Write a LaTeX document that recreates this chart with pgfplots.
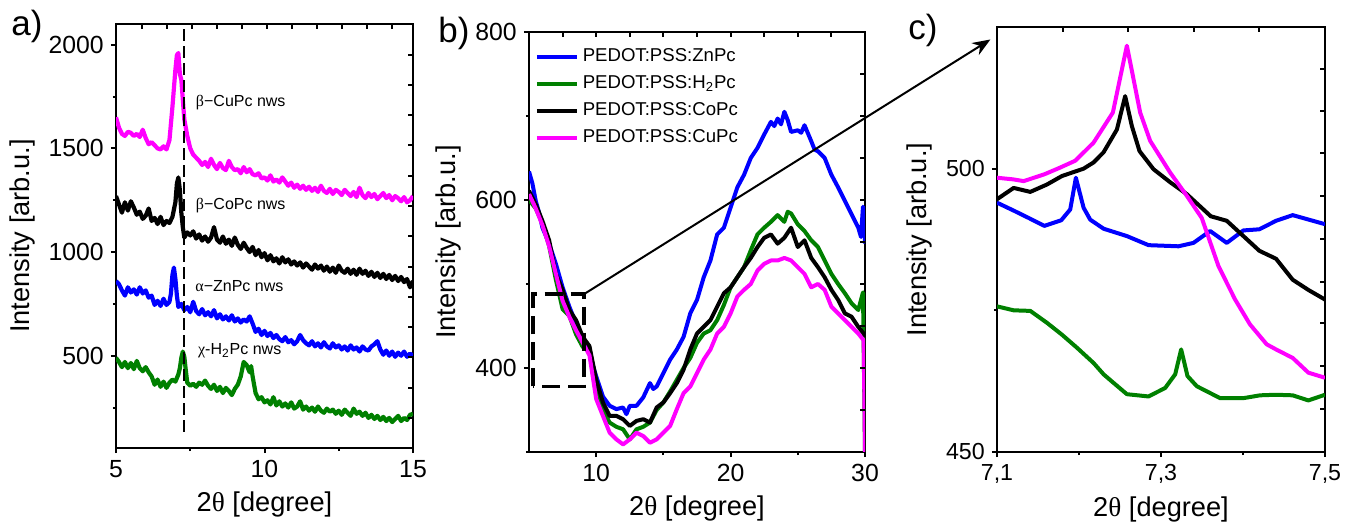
\documentclass[border=0pt]{standalone}
\usepackage{fontspec}
\setmainfont{Liberation Sans}
\newfontfamily\grk{Liberation Serif}
\usepackage{pgfplots}
\pgfplotsset{compat=1.18}
\usetikzlibrary{arrows.meta}
\definecolor{cmag}{HTML}{FF00FF}
\definecolor{cblue}{HTML}{0000FF}
\definecolor{cgreen}{HTML}{008000}

\pgfplotsset{
  panel/.style={scale only axis, axis line style={line width=1.3pt},
    tick align=outside, xtick pos=left, ytick pos=left,
    major tick length=2.6pt, minor tick length=1.6pt,
    every tick/.style={black,line width=1pt},
    tick label style={font=\fontsize{12.4}{14}\selectfont},
    label style={font=\fontsize{13.6}{16}\selectfont},
    /pgf/number format/assume math mode=true,
    /pgf/number format/1000 sep={}},
  mirror/.style={scale only axis, axis line style={draw=none},
    tick align=inside, xtick pos=right, ytick pos=right,
    xticklabels={}, yticklabels={}, major tick length=2.6pt,
    every tick/.style={black,line width=1pt}},
}

\begin{document}
\begin{tikzpicture}
\useasboundingbox (0,0) rectangle (678pt,261pt);

% ---------- a) ----------
\begin{axis}[panel, at={(58pt,37pt)}, anchor=south west,
  width=148.5pt, height=212pt,
  xmin=5, xmax=15, ymin=55, ymax=2100,
  xtick={5,10,15}, minor xtick={7.5,12.5},
  ytick={500,1000,1500,2000}, minor ytick={250,750,1250,1750},
  xlabel={2{\grk θ} [degree]}, ylabel={Intensity [arb.u.]}]
\addplot[cmag, line width=2.1pt, line join=round] coordinates {
(5.0,1650)(5.1,1600)(5.2,1570)(5.3,1560)(5.4,1580)(5.5,1575)(5.6,1560)(5.7,1570)(5.8,1555)(5.9,1590)
(6.0,1550)(6.1,1520)(6.2,1530)(6.3,1515)(6.4,1500)(6.5,1495)(6.6,1510)(6.7,1495)(6.8,1540)(6.9,1700)
(7.0,1880)(7.05,1950)(7.1,1960)(7.15,1860)(7.2,1830)(7.3,1640)(7.4,1560)(7.5,1500)(7.6,1470)(7.7,1455)
(7.8,1440)(7.9,1420)(8.0,1435)(8.1,1410)(8.2,1450)(8.3,1420)(8.4,1400)(8.5,1430)(8.6,1405)(8.7,1395)
(8.8,1440)(8.9,1410)(9.0,1395)(9.1,1400)(9.2,1380)(9.3,1410)(9.4,1385)(9.5,1400)(9.6,1375)(9.7,1370)
(9.8,1380)(9.9,1355)(10.0,1360)(10.1,1345)(10.2,1370)(10.3,1340)(10.4,1350)(10.5,1335)(10.6,1360)(10.7,1340)
(10.8,1320)(10.9,1335)(11.0,1310)(11.1,1325)(11.2,1305)(11.3,1320)(11.4,1300)(11.5,1315)(11.6,1295)(11.7,1310)
(11.8,1290)(11.9,1320)(12.0,1295)(12.1,1285)(12.2,1305)(12.3,1280)(12.4,1300)(12.5,1290)(12.6,1275)(12.7,1300)
(12.8,1285)(12.9,1270)(13.0,1290)(13.1,1265)(13.2,1310)(13.3,1275)(13.4,1260)(13.5,1285)(13.6,1265)(13.7,1280)
(13.8,1255)(13.9,1270)(14.0,1285)(14.1,1260)(14.2,1275)(14.3,1250)(14.4,1270)(14.5,1260)(14.6,1245)(14.7,1265)
(14.8,1240)(14.9,1250)(15.0,1270)};
\addplot[black, line width=2.1pt, line join=round] coordinates {
(5.0,1270)(5.1,1230)(5.2,1190)(5.3,1240)(5.4,1200)(5.5,1245)(5.6,1215)(5.7,1180)(5.8,1195)(5.9,1160)
(6.0,1175)(6.1,1210)(6.2,1150)(6.3,1165)(6.4,1135)(6.5,1170)(6.6,1130)(6.7,1150)(6.8,1140)(6.9,1170)
(7.0,1240)(7.05,1330)(7.1,1360)(7.15,1300)(7.2,1190)(7.25,1120)(7.3,1070)(7.4,1095)(7.5,1080)(7.6,1100)
(7.7,1065)(7.8,1085)(7.9,1055)(8.0,1075)(8.1,1050)(8.2,1070)(8.3,1120)(8.4,1060)(8.5,1045)(8.6,1075)
(8.7,1040)(8.8,1060)(8.9,1030)(9.0,1070)(9.1,1035)(9.2,1015)(9.3,1045)(9.4,1020)(9.5,1000)(9.6,1025)
(9.7,985)(9.8,1010)(9.9,975)(10.0,995)(10.1,960)(10.2,985)(10.3,955)(10.4,970)(10.5,945)(10.6,975)
(10.7,950)(10.8,965)(10.9,940)(11.0,955)(11.1,935)(11.2,950)(11.3,925)(11.4,945)(11.5,930)(11.6,915)
(11.7,940)(11.8,920)(11.9,935)(12.0,910)(12.1,930)(12.2,905)(12.3,925)(12.4,900)(12.5,935)(12.6,910)
(12.7,900)(12.8,920)(12.9,895)(13.0,915)(13.1,890)(13.2,920)(13.3,895)(13.4,910)(13.5,885)(13.6,905)
(13.7,880)(13.8,900)(13.9,875)(14.0,895)(14.1,870)(14.2,890)(14.3,865)(14.4,885)(14.5,860)(14.6,880)
(14.7,855)(14.8,870)(14.9,830)(15.0,860)};
\addplot[cblue, line width=2.1pt, line join=round] coordinates {
(5.0,860)(5.1,845)(5.2,815)(5.3,790)(5.4,830)(5.5,805)(5.6,820)(5.7,795)(5.8,830)(5.9,800)
(6.0,815)(6.1,780)(6.2,790)(6.3,745)(6.4,765)(6.5,740)(6.6,775)(6.7,745)(6.8,760)(6.85,800)
(6.9,890)(6.95,925)(7.0,870)(7.05,790)(7.1,735)(7.2,750)(7.3,720)(7.4,735)(7.5,710)(7.6,760)
(7.7,715)(7.8,700)(7.9,725)(8.0,695)(8.1,710)(8.2,690)(8.3,720)(8.4,680)(8.5,700)(8.6,675)
(8.7,690)(8.8,670)(8.9,695)(9.0,665)(9.1,680)(9.2,660)(9.3,675)(9.4,665)(9.5,690)(9.6,655)
(9.7,615)(9.8,630)(9.9,600)(10.0,620)(10.1,595)(10.2,610)(10.3,585)(10.4,600)(10.5,580)(10.6,570)
(10.7,590)(10.8,565)(10.9,575)(11.0,555)(11.1,570)(11.2,600)(11.3,575)(11.4,560)(11.5,550)(11.6,570)
(11.7,545)(11.8,560)(11.9,540)(12.0,565)(12.1,545)(12.2,535)(12.3,560)(12.4,540)(12.5,550)(12.6,530)
(12.7,545)(12.8,525)(12.9,550)(13.0,530)(13.1,540)(13.2,520)(13.3,545)(13.4,530)(13.5,525)(13.6,545)
(13.7,555)(13.8,570)(13.9,530)(14.0,505)(14.1,525)(14.2,500)(14.3,520)(14.4,495)(14.5,515)(14.6,500)
(14.7,520)(14.8,495)(14.9,510)(15.0,500)};
\addplot[cgreen, line width=2.1pt, line join=round] coordinates {
(5.0,490)(5.1,470)(5.2,445)(5.3,470)(5.4,440)(5.5,465)(5.6,435)(5.7,475)(5.8,440)(5.9,425)
(6.0,445)(6.1,420)(6.2,400)(6.3,360)(6.4,385)(6.5,350)(6.6,375)(6.7,345)(6.8,370)(6.9,385)
(7.0,375)(7.1,410)(7.15,440)(7.2,490)(7.25,520)(7.3,495)(7.35,430)(7.4,370)(7.5,355)(7.6,365)
(7.7,350)(7.8,370)(7.9,360)(8.0,380)(8.1,355)(8.2,340)(8.3,360)(8.4,330)(8.5,350)(8.6,320)
(8.7,345)(8.8,330)(8.9,310)(9.0,340)(9.1,360)(9.2,400)(9.3,470)(9.4,455)(9.5,420)(9.55,450)
(9.6,400)(9.7,320)(9.8,290)(9.9,300)(10.0,275)(10.1,285)(10.2,265)(10.3,300)(10.4,260)(10.5,280)
(10.6,255)(10.7,270)(10.8,250)(10.9,275)(11.0,245)(11.1,255)(11.2,280)(11.3,240)(11.4,255)(11.5,235)
(11.6,250)(11.7,230)(11.8,255)(11.9,235)(12.0,225)(12.1,245)(12.2,230)(12.3,240)(12.4,220)(12.5,235)
(12.6,215)(12.7,240)(12.8,225)(12.9,210)(13.0,245)(13.1,220)(13.2,230)(13.3,210)(13.4,225)(13.5,200)
(13.6,215)(13.7,195)(13.8,210)(13.9,190)(14.0,205)(14.1,185)(14.2,200)(14.3,180)(14.4,195)(14.5,210)
(14.6,185)(14.7,200)(14.8,190)(14.9,215)(15.0,220)};
\draw[black, line width=1.4pt, dash pattern=on 6pt off 2.5pt] (axis cs:7.29,134) -- (axis cs:7.29,2100);
\begin{scope}[every node/.style={anchor=west, inner sep=0pt, font=\fontsize{8}{9}\selectfont}]
\node at (axis cs:7.68,1721) {{\grk β}−CuPc nws};
\node at (axis cs:7.68,1223) {{\grk β}−CoPc nws};
\node at (axis cs:7.66,834) {{\grk α}−ZnPc nws};
\node at (axis cs:7.75,526) {{\grk χ}-H\textsubscript{2}Pc nws};
\end{scope}
\end{axis}
\begin{axis}[mirror, at={(58pt,37pt)}, anchor=south west,
  width=148.5pt, height=212pt,
  xmin=5, xmax=15, ymin=55, ymax=2100,
  xtick={5.87,6.71,7.55,8.40,9.24,10.08,10.92,11.76,12.60,13.45,14.29},
  ytick={200,346,492,638,784,930,1076,1222,1368,1514,1660,1806,1952}]
\end{axis}

% ---------- b) ----------
\begin{axis}[panel, at={(264.5pt,35pt)}, anchor=south west,
  width=168pt, height=210pt,
  xmin=5, xmax=30, ymin=300, ymax=800,
  xtick={10,20,30}, minor xtick={15,25},
  ytick={400,600,800}, minor ytick={300,500,700},
  xlabel={2{\grk θ} [degree]}, ylabel={Intensity [arb.u.]},
  legend style={draw=none, fill=none, at={(axis description cs:0.01,0.975)},
    anchor=north west, font=\fontsize{9.3}{11}\selectfont, row sep=1.5pt,
    inner sep=1pt},
  legend cell align=left,
  legend image code/.code={\draw[#1] (0pt,0pt) -- (20pt,0pt);}]
\addplot[cblue, line width=2pt, line join=round] coordinates {
(5,634)(5.25,620)(5.5,599)(5.75,585)(6,567)(6.5,548)(7,524)(7.5,496)(8,473)(8.5,453)(9,433)(9.5,417)
(10,390)(10.5,366)(11,355)(11.5,351)(12,353)(12.25,345)(12.5,355)(13,355)(13.5,365)(14,382)(14.25,375)
(14.5,378)(15,394)(15.5,410)(16,422)(16.5,437)(17,465)(17.5,481)(18,508)(18.5,528)(19,559)(19.5,567)
(20,591)(20.5,615)(21,630)(21.5,650)(22,662)(22.5,678)(23,693)(23.25,688)(23.5,697)(23.75,690)(24,705)
(24.25,695)(24.5,681)(25,683)(25.25,680)(25.5,689)(26,670)(26.25,660)(26.5,658)(27,650)(27.5,630)
(28,615)(28.5,599)(29,583)(29.5,567)(29.7,556)(29.85,592)(29.95,585)(30,548)};
\addlegendentry{PEDOT:PSS:ZnPc}
\addplot[cgreen, line width=2pt, line join=round] coordinates {
(5,600)(5.5,590)(6,572)(6.5,545)(7,505)(7.5,470)(8,462)(8.5,440)(9,425)(9.5,420)(10,380)(10.5,351)
(11,335)(11.5,330)(12,327)(12.5,315)(13,327)(13.5,330)(14,335)(14.5,350)(15,359)(15.5,372)(16,386)
(16.5,400)(17,412)(17.5,430)(18,441)(18.5,445)(19,457)(19.5,475)(20,496)(20.5,508)(21,520)(21.5,540)
(22,559)(22.5,567)(23,574)(23.5,582)(24,574)(24.25,586)(24.5,584)(25,571)(25.5,563)(26,552)(26.5,544)
(27,528)(27.5,512)(28,500)(28.5,489)(29,477)(29.5,469)(29.85,490)(30,300)};
\addlegendentry{PEDOT:PSS:H\textsubscript{2}Pc}
\addplot[black, line width=2pt, line join=round] coordinates {
(5,611)(5.5,595)(6,575)(6.5,552)(7,512)(7.5,493)(8,469)(8.5,457)(9,437)(9.5,426)(10,386)(10.5,359)
(11,343)(11.5,343)(12,339)(12.5,331)(13,337)(13.5,339)(14,335)(14.5,353)(15,359)(15.5,370)(16,382)
(16.5,398)(17,422)(17.5,441)(18,449)(18.5,457)(19,473)(19.5,489)(20,496)(20.5,508)(21,520)(21.5,531)
(22,544)(22.5,555)(23,559)(23.5,548)(24,555)(24.5,567)(25,544)(25.5,552)(26,531)(26.5,520)(27,508)
(27.5,493)(28,481)(28.5,465)(29,461)(29.5,449)(29.9,441)(30,437)};
\addlegendentry{PEDOT:PSS:CoPc}
\addplot[cmag, line width=2pt, line join=round] coordinates {
(5,607)(5.5,590)(6,570)(6.5,545)(7,512)(7.5,480)(8,461)(8.5,445)(9,430)(9.5,415)(10,363)(10.5,343)
(11,323)(11.5,315)(12,309)(12.5,315)(13,323)(13.5,319)(14,311)(14.5,315)(15,323)(15.5,331)(16,351)
(16.5,370)(17,378)(17.5,394)(18,410)(18.5,422)(19,441)(19.5,449)(20,465)(20.5,485)(21,493)(21.5,500)
(22,516)(22.5,524)(23,528)(23.5,528)(24,531)(24.5,528)(25,520)(25.5,512)(26,496)(26.5,500)(27,493)
(27.5,473)(28,465)(28.5,457)(29,449)(29.5,441)(29.9,433)(30,300)};
\addlegendentry{PEDOT:PSS:CuPc}
\draw[black, line width=1.8pt, dash pattern=on 9pt off 4pt] (axis cs:5.3,378) rectangle (axis cs:9.1,488);
\coordinate (bs) at (axis cs:9.1,488);
\end{axis}
\begin{axis}[mirror, at={(264.5pt,35pt)}, anchor=south west,
  width=168pt, height=210pt,
  xmin=5, xmax=30, ymin=300, ymax=800,
  xtick={7.5,10,12.5,15,17.5,20,22.5,25,27.5},
  ytick={350,400,450,500,550,600,650,700,750}]
\end{axis}

% ---------- c) ----------
\begin{axis}[panel, at={(498.5pt,35pt)}, anchor=south west,
  width=164pt, height=212.5pt,
  xmin=7.1, xmax=7.5, ymin=450, ymax=525,
  xtick={7.1,7.3,7.5}, minor xtick={7.2,7.4},
  xticklabels={{7,1},{7,3},{7,5}},
  ytick={450,500}, minor ytick={475},
  tick label style={font=\fontsize{11.6}{13}\selectfont},
  xlabel={2{\grk θ} [degree]}, ylabel={Intensity [arb.u.]}]
\addplot[cblue, line width=2pt, line join=round] coordinates {
(7.1,494.0)(7.1203,492.6)(7.1386,491.3)(7.1577,489.9)(7.1784,490.9)(7.1893,492.8)(7.1962,498.4)
(7.2056,493.1)(7.2137,491.0)(7.2300,489.4)(7.2584,488.1)(7.2848,486.5)(7.3213,486.3)(7.3396,486.9)
(7.3599,489.0)(7.3802,486.9)(7.4005,489.1)(7.4200,489.3)(7.4403,490.8)(7.4606,491.8)(7.5,490.2)};
\addplot[cgreen, line width=2pt, line join=round] coordinates {
(7.1,475.7)(7.1203,475.0)(7.1406,474.9)(7.1609,472.8)(7.1792,470.7)(7.1975,468.4)(7.2178,465.7)
(7.2300,463.7)(7.2421,462.2)(7.2584,460.2)(7.2848,459.8)(7.3051,461.3)(7.3173,463.7)(7.3246,468.1)
(7.3323,463.4)(7.3437,461.6)(7.3721,459.5)(7.4005,459.5)(7.4208,460.0)(7.4403,460.1)(7.4606,460.0)
(7.4797,459.1)(7.5,460.1)};
\addplot[black, line width=2pt, line join=round] coordinates {
(7.1,494.6)(7.1203,496.6)(7.1406,495.9)(7.1609,497.2)(7.1792,498.7)(7.2056,500.0)(7.2178,501.1)
(7.2300,502.9)(7.2462,506.9)(7.2563,512.8)(7.2645,507.5)(7.2738,503.1)(7.2909,499.9)(7.3112,497.6)
(7.3315,495.5)(7.3607,491.6)(7.3802,490.8)(7.4005,488.1)(7.4200,485.5)(7.4403,484.1)(7.4606,480.4)
(7.4797,478.6)(7.5,476.9)};
\addplot[cmag, line width=2pt, line join=round] coordinates {
(7.1,498.4)(7.1203,498.1)(7.1325,497.8)(7.1577,499.0)(7.1772,500.2)(7.1954,501.4)(7.2178,504.6)
(7.2413,509.9)(7.2584,521.7)(7.2746,509.9)(7.2868,504.9)(7.3112,499.3)(7.3315,495.2)(7.3497,491.3)
(7.3701,482.8)(7.3904,476.9)(7.4086,472.5)(7.4289,469.0)(7.4403,468.1)(7.4606,466.6)(7.4797,464.0)
(7.5,463.1)};
\coordinate (ce) at (axis cs:7.092,522.8);
\end{axis}
\begin{axis}[mirror, at={(498.5pt,35pt)}, anchor=south west,
  width=164pt, height=212.5pt,
  xmin=7.1, xmax=7.5, ymin=450, ymax=525,
  xtick={7.181,7.260,7.340,7.420},
  ytick={457.6,465.1,472.7,480.0,487.6,495.2,502.7,510.1,517.5}]
\end{axis}

\draw[black, line width=1pt, -{Stealth[length=9pt,width=7pt]}] (bs) -- (ce);

\begin{scope}[every node/.style={anchor=base west, inner sep=0pt, font=\fontsize{17.5}{20}\selectfont}]
\node at (5.5pt,243.2pt) {a)};
\node at (219pt,239.7pt) {b)};
\node at (454pt,241.1pt) {c)};
\end{scope}
\end{tikzpicture}
\end{document}
